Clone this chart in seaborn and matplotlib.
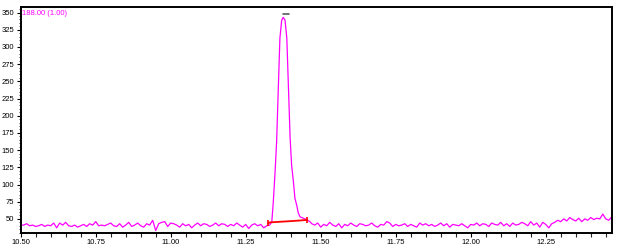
import numpy as np
import pandas as pd
import matplotlib
matplotlib.use("Agg")
import matplotlib.pyplot as plt
import seaborn as sns

# ---- data ----
trace_label = "188.00 (1.00)"
x_ticks = [10.50, 10.75, 11.00, 11.25, 11.50, 11.75, 12.00, 12.25]
x_tick_labels = ["10.50", "10.75", "11.00", "11.25", "11.50", "11.75", "12.00", "12.25"]
y_ticks = [50, 75, 100, 125, 150, 175, 200, 225, 250, 275, 300, 325, 350]

left_start, left_step = 10.50, 0.01
left_vals = [41, 41, 43, 40, 41, 39, 40, 42, 39, 41,
             40, 44, 37, 44, 41, 45, 40, 39, 41, 38,
             40, 42, 39, 43, 41, 46, 40, 41, 40, 42,
             44, 40, 39, 43, 38, 41, 45, 39, 41, 44,
             40, 38, 43, 41, 48, 33, 43, 45, 46, 39,
             44, 43, 41, 38, 43, 40, 42, 37, 41, 44,
             40, 43, 42, 39, 41, 44, 40, 43, 42, 39,
             42, 40, 44, 41, 38, 42, 36, 41, 43, 40,
             42, 37, 40, 41]

peak_t = [11.337, 11.342, 11.348, 11.353, 11.359, 11.364, 11.370, 11.375,
          11.381, 11.387, 11.392, 11.398, 11.403, 11.409, 11.414, 11.420,
          11.425, 11.431, 11.442, 11.453, 11.464]
peak_vals = [46, 75, 119, 162, 245, 313, 339, 343,
             339, 313, 245, 168, 128, 104, 80, 70,
             59, 53, 51, 49, 46]

right_start, right_step = 11.47, 0.01
right_vals = [43, 41, 44, 38, 42, 40, 45, 41, 39, 43,
              37, 42, 40, 44, 41, 39, 43, 42, 40, 41,
              44, 40, 38, 42, 41, 46, 44, 39, 42, 40,
              41, 43, 39, 42, 40, 38, 44, 41, 43, 40,
              42, 39, 41, 44, 40, 43, 38, 42, 41, 40,
              43, 40, 37, 42, 41, 44, 40, 43, 42, 39,
              44, 42, 41, 45, 40, 43, 39, 44, 41, 42,
              45, 43, 40, 46, 41, 44, 38, 45, 42, 37,
              43, 45, 48, 46, 50, 47, 52, 49, 47, 51,
              46, 50, 48, 52, 49, 51, 50, 57, 50, 48,
              53]

baseline_t = [11.325, 11.333, 11.409, 11.455]
baseline_v = [44, 45, 47, 48.5]

apex_t = [11.375, 11.395]
apex_v = [348, 348]

# ---- build trace ----
left_t = [round(left_start + i * left_step, 3) for i in range(len(left_vals))]
right_t = [round(right_start + i * right_step, 3) for i in range(len(right_vals))]
df = pd.DataFrame({"t": left_t + peak_t + right_t,
                   "v": left_vals + peak_vals + right_vals})

sns.set_style("ticks")
plt.rcParams["font.family"] = ["Liberation Sans", "DejaVu Sans"]

fig = plt.figure(figsize=(6.17, 2.52), dpi=100)
ax = fig.add_axes([0.0335, 0.0754, 0.9585, 0.8966])

sns.lineplot(data=df, x="t", y="v", ax=ax, color="#ff00ff", linewidth=0.9,
             sort=False, estimator=None)
sns.lineplot(x=baseline_t, y=baseline_v, ax=ax, color="#ff0000", linewidth=1.3,
             sort=False, estimator=None)
ax.plot([baseline_t[0], baseline_t[-1]], [baseline_v[0], baseline_v[-1]],
        linestyle="none", marker="|", markersize=5, color="#ff0000", mew=1.2)
sns.lineplot(x=apex_t, y=apex_v, ax=ax, color="#556060", linewidth=1.2,
             sort=False, estimator=None)

ax.set_xlim(10.5, 12.471)
ax.set_ylim(29.5, 358)
ax.set_xticks(x_ticks)
ax.set_xticklabels(x_tick_labels)
ax.set_yticks(y_ticks)
ax.set_yticklabels([str(v) for v in y_ticks])
ax.xaxis.set_minor_locator(matplotlib.ticker.MultipleLocator(0.05))
ax.yaxis.set_minor_locator(matplotlib.ticker.MultipleLocator(5))
ax.tick_params(axis="both", which="major", labelsize=5.5, length=3, width=0.8,
               direction="out", pad=1.5, colors="black")
ax.tick_params(axis="x", which="minor", length=3, width=0.8)
ax.tick_params(axis="y", which="minor", length=1.5, width=0.6)
ax.set_xlabel("")
ax.set_ylabel("")
for s in ["top", "right", "bottom", "left"]:
    ax.spines[s].set_visible(True)
    ax.spines[s].set_color("black")
    ax.spines[s].set_linewidth(1.4)
ax.text(0.003, 0.985, trace_label, transform=ax.transAxes, color="#ff00ff",
        fontsize=5.5, ha="left", va="top")

fig.savefig("out.png", dpi=100)
